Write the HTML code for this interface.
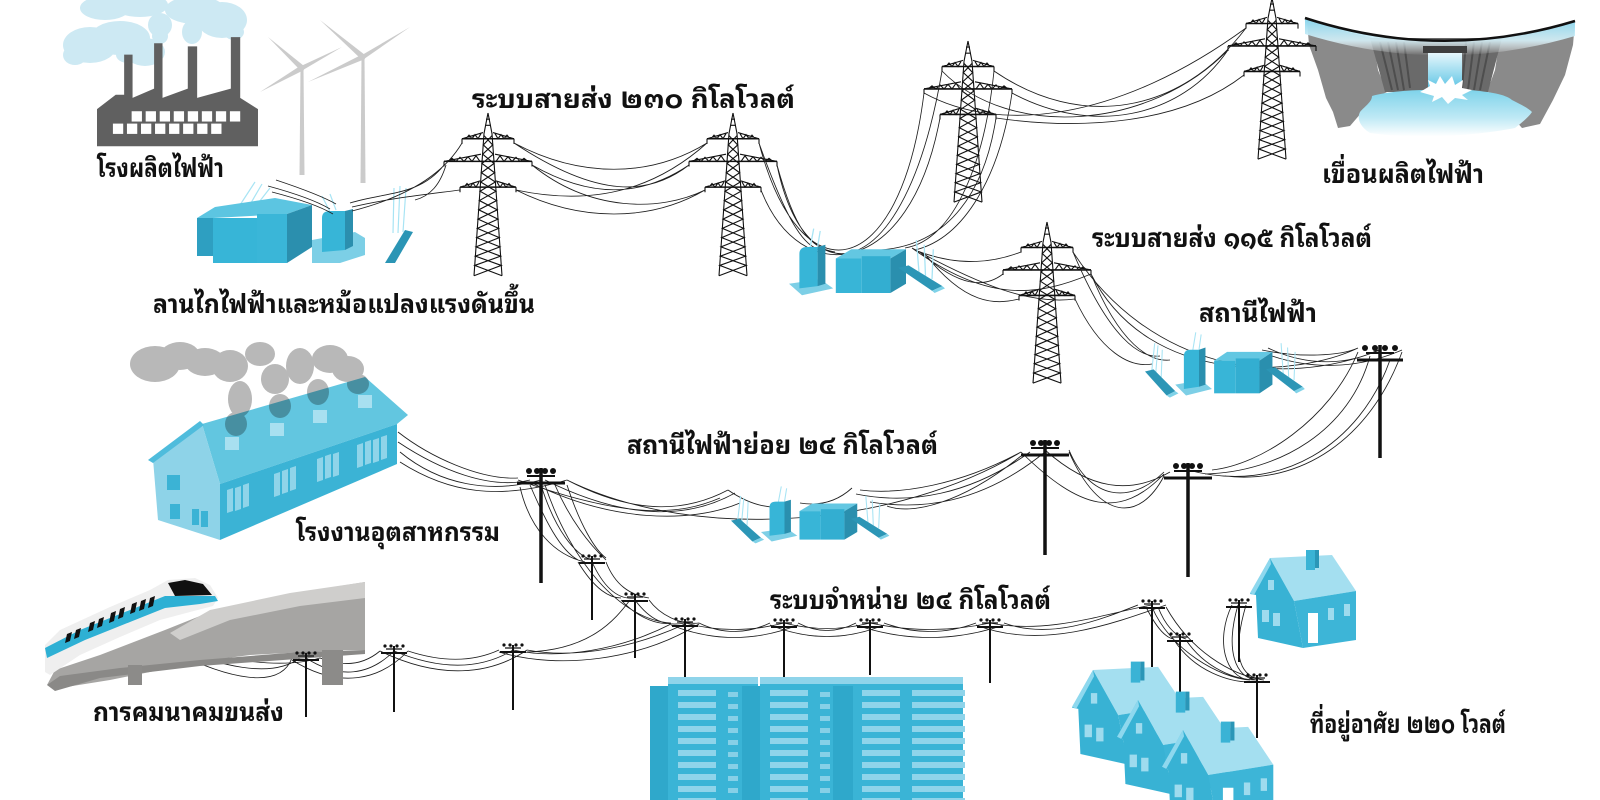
<!DOCTYPE html>
<html><head><meta charset="utf-8"><style>
html,body{margin:0;padding:0;background:#fff}
svg{display:block}
text{font-family:"Liberation Sans","Noto Sans Thai Looped","Tahoma","Loma","Garuda","Waree","Sawasdee","Kinnari","Noto Sans Thai",sans-serif;font-weight:bold;font-size:26px;fill:#111}
</style></head><body>
<svg width="1600" height="800" viewBox="0 0 1600 800" xmlns="http://www.w3.org/2000/svg">
<defs>
<linearGradient id="gWater" x1="0" y1="0" x2="0" y2="1"><stop offset="0" stop-color="#86d4ec"/><stop offset="0.6" stop-color="#d6f1f9" stop-opacity="0.9"/><stop offset="1" stop-color="#ffffff" stop-opacity="0"/></linearGradient>
<linearGradient id="gFall" x1="0" y1="0" x2="0" y2="1"><stop offset="0" stop-color="#e6f7fc"/><stop offset="1" stop-color="#4fbfe2"/></linearGradient>
<linearGradient id="gPool" x1="0" y1="0" x2="0" y2="1"><stop offset="0" stop-color="#7fd3ea"/><stop offset="0.6" stop-color="#bfe9f5"/><stop offset="1" stop-color="#ffffff"/></linearGradient>
<pattern id="stripe" patternUnits="userSpaceOnUse" x="0" y="690" width="20" height="12"><rect width="20" height="6" fill="#8fd4ea"/></pattern>
<pattern id="sq" patternUnits="userSpaceOnUse" x="0" y="692" width="20" height="12"><rect width="20" height="5" fill="#86d0e7"/></pattern>
<g id="tw" fill="none" stroke="#111" stroke-width="1.1">
<path d="M0,0 L-4,20 M0,0 L4,20 M-3,12 L3,12 M-2,6 L2,6 M-4,20 L-14,158 M4,20 L14,158"/>
<path d="M-4,22 L4.66,31 L-5.32,40 L5.99,49 L-6.65,58 L7.31,67 L-7.97,76 L8.63,85 L-9.29,94 L9.96,103 L-10.62,112 L11.28,121 L-11.94,130 L12.6,139 L-13.26,148 L14,158"/>
<path d="M4,22 L-4.66,31 L5.32,40 L-5.99,49 L6.65,58 L-7.31,67 L7.97,76 L-8.63,85 L9.29,94 L-9.96,103 L10.62,112 L-11.28,121 L11.94,130 L-12.6,139 L13.26,148 L-14,158"/>
<path stroke-width="1.5" d="M-26,25 L26,25 M-44,47 L44,47 M-28,72 L28,72"/>
<path d="M-26,25 L-5,19 M26,25 L5,19 M-22,25 L-19,21.5 L-16,25 L-13,21 L-10,25 L-7,20 M22,25 L19,21.5 L16,25 L13,21 L10,25 L7,20"/>
<path d="M-44,47 L-7,40 M44,47 L7,40 M-40,47 L-36,44 L-32,47 L-28,43 L-24,47 L-20,42.5 L-16,47 L-12,41.5 L-8,47 M40,47 L36,44 L32,47 L28,43 L24,47 L20,42.5 L16,47 L12,41.5 L8,47"/>
<path d="M-28,72 L-8,66 M28,72 L8,66 M-24,72 L-21,68.5 L-18,72 L-15,68 L-12,72 L-9,67 M24,72 L21,68.5 L18,72 L15,68 L12,72 L9,67"/>
<path d="M-26,25 V30 M26,25 V30 M-44,47 V52 M44,47 V52 M-28,72 V77 M28,72 V77"/>
</g>
<g id="ssl">
<path d="M6,30 L9,2 M10,29 L12,4 M15,33 L16,8" stroke="#a8e4f4" stroke-width="1" fill="none"/>
<polygon points="0,28 8,26 28,46 20,50" fill="#2c96b6"/>
<polygon points="20,50 28,46 31,48 23,52" fill="#7fd2e8"/>
</g>
<g id="ss">
<path d="M44,10 L47,-8 M50,8 L52,-6 M128,30 L126,2 M133,33 L132,6 M138,36 L139,10" stroke="#a8e4f4" stroke-width="1" fill="none"/>
<polygon points="28,40 52,36 62,44 38,50" fill="#7dcfe6"/>
<path d="M36,44 L36,14 Q36,8 42,8 L50,8 L50,42 Z" fill="#37b5d7"/>
<path d="M50,8 L56,6 L56,40 L50,42 Z" fill="#2a8fae"/>
<polygon points="64,18 76,10 118,10 106,18" fill="#63c7e2"/>
<rect x="64" y="18" width="20" height="30" fill="#38b5d7"/>
<rect x="84" y="16" width="22" height="32" fill="#33aed1"/>
<polygon points="106,18 118,10 118,40 106,48" fill="#2a8fae"/>
<polygon points="112,26 120,24 146,42 138,46" fill="#2c96b6"/>
<polygon points="138,46 146,42 148,44 140,48" fill="#7fd2e8"/>
</g>
<g id="house">
<polygon points="0,0 62,-3 86,33 24,43" fill="#a4dff0"/>
<rect x="36" y="-8" width="9" height="20" fill="#3ab3d5"/>
<rect x="45" y="-8" width="4" height="18" fill="#2a96b7"/>
<polygon points="24,43 86,33 86,82 33,90" fill="#3db5d7"/>
<polygon points="0,0 24,43 33,90 -12,80 -14,37 -20,36" fill="#38b2d4"/>
<polygon points="0,0 -20,35 -16,37 1,6" fill="#8ed8ee"/>
<rect x="-2" y="22" width="6" height="10" fill="#9edbee"/>
<rect x="-8" y="52" width="7" height="12" fill="#9edbee"/>
<rect x="3" y="55" width="7" height="13" fill="#9edbee"/>
<rect x="38" y="55" width="10" height="30" fill="#fff"/>
<rect x="58" y="50" width="6" height="12" fill="#9edbee"/>
<rect x="74" y="46" width="6" height="12" fill="#9edbee"/>
</g>
</defs>
<rect width="1600" height="800" fill="#fff"/>

<!-- clouds -->
<g fill="#cde9f3">
<ellipse cx="90" cy="45" rx="27" ry="18"/><ellipse cx="120" cy="38" rx="30" ry="17"/><ellipse cx="145" cy="52" rx="20" ry="14"/><ellipse cx="75" cy="55" rx="12" ry="10"/><ellipse cx="128" cy="55" rx="12" ry="8"/>
<ellipse cx="105" cy="8" rx="25" ry="12"/><ellipse cx="140" cy="5" rx="28" ry="12"/><ellipse cx="160" cy="25" rx="12" ry="12"/><ellipse cx="160" cy="36" rx="8" ry="8"/>
<ellipse cx="195" cy="10" rx="30" ry="14"/><ellipse cx="222" cy="20" rx="25" ry="18"/><ellipse cx="234" cy="32" rx="10" ry="8"/><ellipse cx="192" cy="32" rx="10" ry="12"/>
</g>
<!-- power plant -->
<g transform="translate(97,0) scale(0.936,1.03) translate(-100,0)">
<polygon fill="#606060" points="100,142 100,106 120,92 129,92 129,53 138,53 138,95 161,86 161,42 170,42 170,95 197,86 197,45 207,45 207,95 243,86 243,36 253,36 253,95 272,106 272,142"/>
<g fill="#fff">
<rect x="137" y="108" width="11" height="10"/><rect x="152" y="108" width="11" height="10"/><rect x="167" y="108" width="11" height="10"/><rect x="182" y="108" width="11" height="10"/><rect x="197" y="108" width="11" height="10"/><rect x="212" y="108" width="11" height="10"/><rect x="227" y="108" width="11" height="10"/><rect x="242" y="108" width="11" height="10"/>
<rect x="117" y="120" width="11" height="10"/><rect x="132" y="120" width="11" height="10"/><rect x="147" y="120" width="11" height="10"/><rect x="162" y="120" width="11" height="10"/><rect x="177" y="120" width="11" height="10"/><rect x="192" y="120" width="11" height="10"/><rect x="207" y="120" width="11" height="10"/><rect x="222" y="120" width="11" height="10"/>
</g>
</g>
<!-- turbines -->
<g fill="#cbcbcb">
<polygon points="300.5,68 303.5,68 304.5,175 299.5,175"/>
<polygon points="361.5,57 364.5,57 365.5,183 360.5,183"/>
<polygon points="300,70 268,37 304,66"/><polygon points="301,66 342,47 303,70"/><polygon points="300,66 260,92 304,70"/>
<polygon points="361,59 320,20 365,55"/><polygon points="362,55 410,27 364,59"/><polygon points="361,55 308,82 365,59"/>
<circle cx="302" cy="68" r="2.5"/><circle cx="363" cy="57" r="2.5"/>
</g>

<!-- substation 1 -->
<g stroke="#a8e4f4" stroke-width="1.2" fill="none"><path d="M240,205 L255,182 M248,208 L262,184 M256,206 L270,188 M330,212 L322,196 M336,210 L330,194 M393,233 L394,188 M398,233 L400,186 M403,232 L406,188"/></g>
<polygon points="197,218 215,207 275,198 312,205 287,214 213,218" fill="#5cc5e1"/>
<rect x="197" y="218" width="16" height="38" fill="#2e9fc1"/>
<rect x="213" y="218" width="44" height="45" fill="#37b5d7"/>
<rect x="257" y="214" width="30" height="49" fill="#3ab6d8"/>
<polygon points="287,214 312,205 312,247 287,263" fill="#2b8fae"/>
<polygon points="312,240 355,232 365,238 365,255 340,263 312,263" fill="#7ccfe6"/>
<path d="M322,252 L322,218 Q322,211 330,211 L345,211 L345,250 Z" fill="#37b5d7"/>
<path d="M345,211 L353,209 L353,246 L345,250 Z" fill="#2b8fae"/>
<polygon points="385,263 405,230 413,232 395,263" fill="#2b95b5"/>

<!-- dam -->
<polygon fill="#8a8a8a" points="1307,20 1340,30 1373,38 1378,70 1387,92 1372,100 1362,112 1350,126 1338,128 1333,112 1326,98 1318,70 1309,45"/>
<polygon fill="#8a8a8a" points="1575,21 1540,31 1500,38 1495,70 1487,92 1500,95 1510,105 1515,120 1522,128 1540,124 1553,100 1565,75 1573,45"/>
<polygon fill="#6a6a6a" points="1370,38 1502,38 1488,92 1385,92"/>
<g stroke="#4e4e4e" stroke-width="2"><path d="M1380,42 L1392,90 M1388,42 L1398,90 M1396,42 L1404,90 M1404,42 L1410,88 M1490,42 L1480,90 M1482,42 L1474,90 M1474,42 L1468,90 M1466,42 L1462,88"/></g>
<path d="M1305,18 Q1440,62 1575,21 L1575,36 Q1440,76 1305,34 Z" fill="url(#gWater)"/>
<path d="M1305,18 Q1440,62 1575,21" stroke="#111" stroke-width="2.5" fill="none"/>
<rect x="1423" y="46" width="44" height="7" fill="#3e3e3e"/>
<rect x="1428" y="53" width="34" height="40" fill="url(#gFall)"/>
<path d="M1372,96 C1385,92 1410,90 1425,90 L1470,90 C1490,92 1505,94 1512,100 C1520,104 1528,108 1532,112 C1528,118 1520,124 1515,128 C1480,135 1420,140 1370,133 C1362,128 1356,120 1360,112 C1365,106 1372,102 1372,96 Z" fill="url(#gPool)"/>
<polygon fill="#fff" points="1420,92 1430,86 1428,80 1436,84 1440,76 1445,84 1452,76 1455,85 1463,80 1462,88 1472,90 1462,95 1468,100 1455,98 1448,104 1442,97 1432,102 1434,96"/>

<!-- towers -->
<use href="#tw" transform="translate(488,113) scale(1,1.03)"/>
<use href="#tw" transform="translate(733,113) scale(1,1.03)"/>
<use href="#tw" transform="translate(968,41) scale(1,1.02)"/>
<use href="#tw" transform="translate(1272,-2) scale(1,1.02)"/>
<use href="#tw" transform="translate(1047,222) scale(1,1.02)"/>

<!-- wires -->
<g stroke="#1e1e1e" stroke-width="0.85" fill="none">
<path d="M268,186 C290,192 315,200 330,209 M272,192 C295,198 318,205 333,214 M276,180 C300,188 322,196 336,204 M350,203 C385,192 420,196 444,165 M352,207 C390,198 430,194 460,190 M352,211 C395,200 440,180 462,143 M446,165 C440,185 430,196 415,200"/>
<path d="M514,143 C580,178 650,178 707,143 M532,165 C590,198 640,198 689,165 M516,190 C580,222 650,222 705,190 M514,143 C600,200 650,195 689,165 M532,165 C590,212 660,212 705,190 M516,190 C600,208 660,185 707,143"/>
<path d="M759,143 C800,300 900,285 924,93 M777,165 C805,300 905,290 942,71 M761,190 C800,290 910,280 940,118 M759,143 C790,230 805,245 820,250 M777,165 C795,230 810,248 835,252 M994,71 C985,160 955,240 905,248 M1012,93 C1000,175 965,238 915,250 M996,118 C985,190 950,245 880,250"/>
<path d="M994,71 C1080,130 1180,115 1246,28 M1012,93 C1090,135 1180,120 1228,50 M996,118 C1080,130 1180,125 1244,75 M942,71 C1010,140 1150,130 1228,50 M924,93 C1000,135 1120,120 1246,28"/>
<path d="M915,250 C960,268 995,262 1021,252 M920,252 C960,288 985,288 1003,274 M925,254 C965,305 995,305 1019,299 M912,248 C980,285 1030,305 1075,299 M912,248 C990,305 1040,295 1091,274"/>
<path d="M1073,252 C1110,340 1140,358 1160,356 M1091,274 C1120,345 1150,362 1170,360 M1075,299 C1100,352 1130,368 1152,364 M1262,350 C1300,358 1340,356 1358,348 M1268,348 C1310,368 1350,364 1378,350 M1272,356 C1320,372 1365,366 1402,350 M1091,274 C1150,390 1300,376 1358,348 M1073,252 C1150,370 1280,390 1380,350"/>
<path d="M1358,352 C1330,420 1260,465 1212,470 M1370,356 C1350,430 1280,472 1205,474 M1402,352 C1370,440 1300,485 1225,476 M1390,360 C1360,445 1280,495 1188,470 M1164,472 C1130,505 1090,500 1069,450 M1170,472 C1130,495 1090,490 1045,450 M1164,474 C1120,520 1080,510 1021,452 M1069,452 C1100,522 1140,522 1164,476"/>
<path d="M1021,452 C960,485 900,495 860,490 M1030,452 C970,495 910,505 856,494 M1045,452 C980,505 920,510 870,502 M1021,456 C960,505 910,515 887,506 M852,488 Q830,508 800,503 M728,490 Q760,512 790,506 M728,490 C690,510 640,518 567,480 M735,493 C690,518 630,522 545,480 M720,498 C680,515 630,520 518,480 M740,503 C690,524 610,522 530,482 M567,480 C700,545 900,525 1021,452"/>
<path d="M398,432 C430,457 480,480 518,478 M398,442 C440,470 490,490 530,480 M400,452 C440,485 490,494 541,480 M400,462 C450,494 500,500 567,480"/>
<path d="M530,485 C545,520 560,550 578,560 M541,485 C555,530 575,555 592,560 M555,485 C570,520 590,545 606,560 M567,485 C580,525 595,550 606,558 M520,487 C530,530 555,555 585,562 M578,562 C595,590 610,598 621,598 M592,562 C605,590 620,600 635,598 M606,562 C615,585 630,595 649,598 M621,600 C640,620 660,625 671,623 M635,600 C650,620 665,627 685,623 M649,600 C660,615 680,625 699,623 M545,485 C570,560 620,620 671,623"/>
<path d="M699,623 Q734,640 770,623 M685,623 Q734,636 784,623 M671,625 Q734,650 798,625 M798,623 Q827,638 856,623 M784,623 Q827,634 870,623 M770,625 Q827,648 884,625 M884,623 Q930,640 976,623 M870,623 Q930,636 990,623 M856,625 Q930,650 1004,625 M1004,623 C1050,640 1100,620 1138,605 M990,623 C1050,635 1110,612 1152,605 M976,625 C1040,650 1110,625 1166,605"/>
<path d="M1146,607 C1155,625 1165,638 1174,639 M1158,607 C1165,625 1175,636 1186,639 M1152,607 C1170,650 1220,678 1250,680 M1166,607 C1190,650 1230,675 1264,680 M1186,640 C1205,668 1235,680 1257,680 M1174,640 C1195,672 1230,682 1250,682 M1232,605 C1215,640 1225,678 1250,680 M1238,605 C1225,650 1235,678 1257,680 M1246,605 C1230,660 1242,678 1264,680"/>
<path d="M165,645 C220,665 270,680 300,658 M170,650 C230,680 280,690 292,658 M160,640 C220,660 280,670 320,658 M306,658 C340,680 370,675 394,651 M320,658 Q355,672 380,651 M292,660 C340,690 380,680 408,651 M394,651 C440,670 480,670 513,650 M408,651 Q460,668 499,650 M380,651 C440,680 490,675 527,650 M513,650 C560,660 620,650 671,624 M527,650 C580,660 640,645 685,624 M499,652 C560,670 640,660 699,624 M527,652 C590,650 615,620 630,600"/>
</g>

<!-- substations 2-4 -->
<use href="#ss" transform="translate(752.6,237.8) scale(1.3,1.15)"/>
<use href="#ssl" transform="translate(1145,341) scale(1.08,1.09)"/>
<use href="#ss" transform="translate(1145,341) scale(1.08,1.09)"/>
<use href="#ssl" transform="translate(731,494) scale(1.07,0.95)"/>
<use href="#ss" transform="translate(731,494) scale(1.07,0.95)"/>

<!-- blue factory -->
<g transform="translate(0,7)">
<polygon points="202,417 365,370 408,408 397,417 220,477" fill="#62c6e0"/>
<polygon points="220,477 397,417 397,457 220,533" fill="#3bb3d5"/>
<polygon points="153,452 202,417 220,477 220,533 158,513" fill="#8ed3e8"/>
<polygon points="148,453 200,414 204,418 153,456" fill="#4fbcdc"/>
<g fill="#3bb3d5"><rect x="167" y="468" width="13" height="15"/><rect x="170" y="497" width="10" height="15"/><rect x="192" y="502" width="7" height="16"/><rect x="201" y="504" width="7" height="16"/></g>
<g fill="#8fd4e9">
<polygon points="227,483 233,481 233,504 227,506"/><polygon points="235,481 241,479 241,502 235,504"/><polygon points="243,478 249,476 249,499 243,501"/>
<polygon points="274,467 280,465 280,488 274,490"/><polygon points="282,464 288,462 288,485 282,487"/><polygon points="290,461 296,459 296,482 290,484"/>
<polygon points="317,452 323,450 323,473 317,475"/><polygon points="325,449 331,447 331,470 325,472"/><polygon points="333,447 339,445 339,468 333,470"/>
<polygon points="357,438 363,436 363,459 357,461"/><polygon points="365,435 371,433 371,456 365,458"/><polygon points="373,433 379,431 379,454 373,456"/><polygon points="381,430 387,428 387,451 381,453"/>
</g>
<g fill="#a8e0f0"><rect x="225" y="430" width="14" height="13"/><rect x="270" y="416" width="14" height="13"/><rect x="313" y="403" width="14" height="13"/><rect x="358" y="388" width="14" height="13"/></g>
<g fill="#b8b8b8" style="mix-blend-mode:multiply">
<ellipse cx="155" cy="357" rx="25" ry="18"/><ellipse cx="180" cy="349" rx="20" ry="14"/><ellipse cx="205" cy="355" rx="20" ry="14"/><ellipse cx="230" cy="359" rx="18" ry="16"/><ellipse cx="240" cy="392" rx="12" ry="18"/><ellipse cx="236" cy="417" rx="11" ry="12"/><ellipse cx="260" cy="347" rx="15" ry="12"/><ellipse cx="275" cy="372" rx="14" ry="15"/><ellipse cx="280" cy="399" rx="11" ry="12"/><ellipse cx="300" cy="359" rx="14" ry="18"/><ellipse cx="318" cy="385" rx="11" ry="13"/><ellipse cx="330" cy="352" rx="18" ry="14"/><ellipse cx="348" cy="362" rx="16" ry="13"/><ellipse cx="358" cy="377" rx="11" ry="10"/>
</g>
</g>

<!-- bridge & train -->
<polygon fill="#a6a5a3" points="365,582 365,650 345,650 250,655 190,663 150,672 110,680 60,688 47,685 55,670 100,655 165,630 215,610 290,594"/>
<polygon fill="#cfcecc" points="365,582 365,598 300,606 230,620 180,640 170,633 210,610 290,593"/>
<polygon fill="#8a8987" points="47,685 60,676 120,668 200,660 300,652 365,650 365,654 200,666 100,678 55,691"/>
<rect x="322" y="650" width="21" height="35" fill="#8c8b89"/>
<rect x="128" y="665" width="14" height="20" fill="#8c8b89"/>
<polygon fill="#efefef" points="45,672 45,645 60,630 110,607 150,590 168,580 195,578 210,585 218,598 213,606 190,612 160,620 120,637 80,655 50,675"/>
<polygon fill="#2eb0d4" points="45,648 80,630 130,610 165,596 215,596 218,601 200,604 165,608 130,622 85,640 47,658"/>
<polygon fill="#111" points="168,583 185,580 203,584 212,595 175,596"/>
<g fill="#111">
<polygon points="150,598 155,596 153,606 148,608"/><polygon points="141,601 146,599 144,609 139,611"/><polygon points="132,604 137,602 135,612 130,614"/><polygon points="120,609 125,607 123,617 118,619"/><polygon points="111,613 116,611 114,621 109,623"/><polygon points="99,619 104,617 102,626 97,628"/><polygon points="90,623 95,621 93,630 88,632"/><polygon points="76,630 81,628 79,637 74,639"/><polygon points="67,634 72,632 70,641 65,643"/>
</g>

<!-- big poles -->
<g stroke="#111" fill="none">
<path stroke-width="3.5" d="M1380,345 V458 M541,468 V583 M1045,440 V555 M1188,463 V577"/>
<path stroke-width="3" d="M1357,360 H1403 M517,483 H565 M1021,455 H1069 M1164,478 H1212"/>
<path stroke-width="2" d="M1366,353 H1394 M527,476 H555 M1031,448 H1059 M1174,471 H1202"/>
</g>
<g fill="#111">
<circle cx="1365" cy="348" r="3"/><circle cx="1375" cy="348" r="3"/><circle cx="1385" cy="348" r="3"/><circle cx="1395" cy="348" r="3"/>
<circle cx="529" cy="471" r="3"/><circle cx="537" cy="471" r="3"/><circle cx="545" cy="471" r="3"/><circle cx="553" cy="471" r="3"/>
<circle cx="1033" cy="443" r="3"/><circle cx="1041" cy="443" r="3"/><circle cx="1049" cy="443" r="3"/><circle cx="1057" cy="443" r="3"/>
<circle cx="1176" cy="466" r="3"/><circle cx="1184" cy="466" r="3"/><circle cx="1192" cy="466" r="3"/><circle cx="1200" cy="466" r="3"/>
</g>
<!-- small poles -->
<g stroke="#111" fill="none" stroke-width="2">
<path d="M306,653 V717 M293,660 H319 M394,646 V712 M381,653 H407 M513,645 V710 M500,652 H526 M592,556 V620 M579,563 H605 M635,594 V658 M622,601 H648 M685,619 V677 M672,626 H698 M784,620 V677 M771,627 H797 M870,620 V675 M857,627 H883 M990,620 V683 M977,627 H1003 M1152,601 V667 M1139,608 H1165 M1180,634 V693 M1167,641 H1193 M1239,600 V662 M1226,607 H1252 M1257,675 V738 M1244,682 H1270"/>
<path stroke-width="1.2" d="M298,656 H314 M386,649 H402 M505,648 H521 M584,559 H600 M627,597 H643 M677,622 H693 M776,623 H792 M862,623 H878 M982,623 H998 M1144,604 H1160 M1172,637 H1188 M1231,603 H1247 M1249,678 H1265"/>
</g>
<g fill="#111">
<circle cx="297" cy="653" r="1.6"/><circle cx="303" cy="653" r="1.6"/><circle cx="309" cy="653" r="1.6"/><circle cx="315" cy="653" r="1.6"/>
<circle cx="385" cy="646" r="1.6"/><circle cx="391" cy="646" r="1.6"/><circle cx="397" cy="646" r="1.6"/><circle cx="403" cy="646" r="1.6"/>
<circle cx="504" cy="645" r="1.6"/><circle cx="510" cy="645" r="1.6"/><circle cx="516" cy="645" r="1.6"/><circle cx="522" cy="645" r="1.6"/>
<circle cx="583" cy="556" r="1.6"/><circle cx="589" cy="556" r="1.6"/><circle cx="595" cy="556" r="1.6"/><circle cx="601" cy="556" r="1.6"/>
<circle cx="626" cy="594" r="1.6"/><circle cx="632" cy="594" r="1.6"/><circle cx="638" cy="594" r="1.6"/><circle cx="644" cy="594" r="1.6"/>
<circle cx="676" cy="619" r="1.6"/><circle cx="682" cy="619" r="1.6"/><circle cx="688" cy="619" r="1.6"/><circle cx="694" cy="619" r="1.6"/>
<circle cx="775" cy="620" r="1.6"/><circle cx="781" cy="620" r="1.6"/><circle cx="787" cy="620" r="1.6"/><circle cx="793" cy="620" r="1.6"/>
<circle cx="861" cy="620" r="1.6"/><circle cx="867" cy="620" r="1.6"/><circle cx="873" cy="620" r="1.6"/><circle cx="879" cy="620" r="1.6"/>
<circle cx="981" cy="620" r="1.6"/><circle cx="987" cy="620" r="1.6"/><circle cx="993" cy="620" r="1.6"/><circle cx="999" cy="620" r="1.6"/>
<circle cx="1143" cy="601" r="1.6"/><circle cx="1149" cy="601" r="1.6"/><circle cx="1155" cy="601" r="1.6"/><circle cx="1161" cy="601" r="1.6"/>
<circle cx="1171" cy="634" r="1.6"/><circle cx="1177" cy="634" r="1.6"/><circle cx="1183" cy="634" r="1.6"/><circle cx="1189" cy="634" r="1.6"/>
<circle cx="1230" cy="600" r="1.6"/><circle cx="1236" cy="600" r="1.6"/><circle cx="1242" cy="600" r="1.6"/><circle cx="1248" cy="600" r="1.6"/>
<circle cx="1248" cy="675" r="1.6"/><circle cx="1254" cy="675" r="1.6"/><circle cx="1260" cy="675" r="1.6"/><circle cx="1266" cy="675" r="1.6"/>
</g>

<!-- buildings -->
<rect x="650" y="686" width="18" height="114" fill="#2fa8cb"/>
<rect x="668" y="677" width="90" height="123" fill="#3ab4d6"/>
<rect x="678" y="690" width="38" height="110" fill="url(#stripe)"/>
<rect x="728" y="692" width="10" height="108" fill="url(#sq)"/>
<rect x="668" y="677" width="90" height="7" fill="#8fd4ea"/>
<rect x="742" y="686" width="18" height="114" fill="#2fa8cb"/>
<rect x="760" y="677" width="93" height="123" fill="#3ab4d6"/>
<rect x="770" y="690" width="38" height="110" fill="url(#stripe)"/>
<rect x="820" y="692" width="10" height="108" fill="url(#sq)"/>
<rect x="760" y="677" width="93" height="7" fill="#8fd4ea"/>
<rect x="833" y="686" width="20" height="114" fill="#2fa8cb"/>
<rect x="853" y="677" width="110" height="123" fill="#3ab4d6"/>
<rect x="862" y="690" width="38" height="110" fill="url(#stripe)"/>
<rect x="912" y="690" width="53" height="110" fill="url(#stripe)"/>
<rect x="853" y="677" width="110" height="7" fill="#8fd4ea"/>

<!-- houses -->
<use href="#house" transform="translate(1270,558)"/>
<use href="#house" transform="translate(1093,670) scale(1.05)"/>
<use href="#house" transform="translate(1138,700) scale(1.05)"/>
<use href="#house" transform="translate(1183,730) scale(1.05)"/>

<!-- labels -->
<text x="97" y="177" textLength="127" lengthAdjust="spacingAndGlyphs">โรงผลิตไฟฟ้า</text>
<text x="153" y="313" textLength="382" lengthAdjust="spacingAndGlyphs">ลานไกไฟฟ้าและหม้อแปลงแรงดันขึ้น</text>
<text x="472" y="108" textLength="323" lengthAdjust="spacingAndGlyphs">ระบบสายส่ง  ๒๓๐ กิโลโวลต์</text>
<text x="1322" y="183" textLength="162" lengthAdjust="spacingAndGlyphs">เขื่อนผลิตไฟฟ้า</text>
<text x="1092" y="247" textLength="280" lengthAdjust="spacingAndGlyphs">ระบบสายส่ง ๑๑๕ กิโลโวลต์</text>
<text x="1199" y="322" textLength="118" lengthAdjust="spacingAndGlyphs">สถานีไฟฟ้า</text>
<text x="296" y="541" textLength="204" lengthAdjust="spacingAndGlyphs">โรงงานอุตสาหกรรม</text>
<text x="627" y="454" textLength="311" lengthAdjust="spacingAndGlyphs">สถานีไฟฟ้าย่อย ๒๔ กิโลโวลต์</text>
<text x="770" y="609" textLength="281" lengthAdjust="spacingAndGlyphs">ระบบจำหน่าย ๒๔ กิโลโวลต์</text>
<text x="93" y="721" textLength="191" lengthAdjust="spacingAndGlyphs">การคมนาคมขนส่ง</text>
<text x="1310" y="733" textLength="196" lengthAdjust="spacingAndGlyphs">ที่อยู่อาศัย ๒๒๐ โวลต์</text>
</svg>
</body></html>
